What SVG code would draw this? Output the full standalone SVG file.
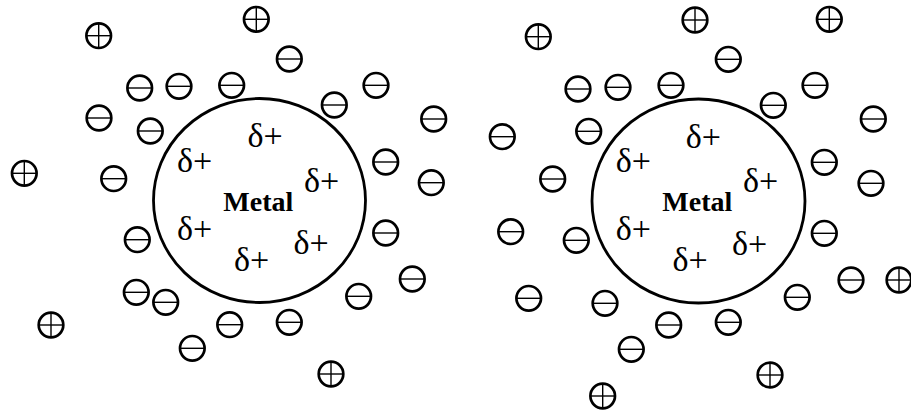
<svg xmlns="http://www.w3.org/2000/svg" xmlns:xlink="http://www.w3.org/1999/xlink" width="911" height="417" viewBox="0 0 911 417">
<style>
.ring{fill:none;stroke:#000;stroke-width:2.7}
.bar{stroke:#000;stroke-width:1.4}
.metal{fill:none;stroke:#000;stroke-width:2.8}
.d{font-family:"Liberation Serif","Times New Roman",serif;font-size:34px;text-anchor:middle;fill:#000}
.m{font-family:"Liberation Serif","Times New Roman",serif;font-size:28px;font-weight:bold;text-anchor:middle;fill:#000}
</style>
<defs>
<g id="neg"><circle class="ring" r="12.3"/><line class="bar" x1="-12.3" y1="0" x2="12.3" y2="0"/></g>
<g id="pos"><circle class="ring" r="12.3"/><line class="bar" x1="-12.3" y1="0" x2="12.3" y2="0"/><line class="bar" x1="0" y1="-12.3" x2="0" y2="12.3"/></g>
</defs>
<rect width="911" height="417" fill="#fff"/>
<g id="connectors"></g>

<g id="left-panel">
<g id="left-metal">
<ellipse class="metal" cx="259.5" cy="200.5" rx="106" ry="102"/>
<text class="m" x="258.3" y="211">Metal</text>
<text class="d" x="265" y="147">δ+</text>
<text class="d" x="194.7" y="172.3">δ+</text>
<text class="d" x="321.7" y="192">δ+</text>
<text class="d" x="194.7" y="239.6">δ+</text>
<text class="d" x="311" y="254.3">δ+</text>
<text class="d" x="251.7" y="271">δ+</text>
</g>
<g id="left-cations">
<use href="#pos" x="98.7" y="35.7"/>
<use href="#pos" x="256.3" y="19.3"/>
<use href="#pos" x="24.3" y="173.3"/>
<use href="#pos" x="51" y="325"/>
<use href="#pos" x="331" y="374"/>
</g>
<g id="left-anions">
<use href="#neg" x="289.3" y="59"/>
<use href="#neg" x="139.7" y="88"/>
<use href="#neg" x="179" y="86.3"/>
<use href="#neg" x="231.7" y="85.3"/>
<use href="#neg" x="376" y="85.3"/>
<use href="#neg" x="334.3" y="105"/>
<use href="#neg" x="433.7" y="119"/>
<use href="#neg" x="99" y="118"/>
<use href="#neg" x="150.3" y="131"/>
<use href="#neg" x="385.7" y="162"/>
<use href="#neg" x="431.3" y="182.7"/>
<use href="#neg" x="113.7" y="178.7"/>
<use href="#neg" x="137.3" y="239.7"/>
<use href="#neg" x="385.7" y="233"/>
<use href="#neg" x="412.3" y="279"/>
<use href="#neg" x="136.3" y="292.3"/>
<use href="#neg" x="165.7" y="302.3"/>
<use href="#neg" x="358.7" y="296.3"/>
<use href="#neg" x="229.7" y="324.7"/>
<use href="#neg" x="289.3" y="322.3"/>
<use href="#neg" x="192.3" y="348.3"/>
</g>
</g>

<g id="right-panel">
<g id="right-metal">
<ellipse class="metal" cx="698.5" cy="201" rx="106.5" ry="102"/>
<text class="m" x="697.3" y="211">Metal</text>
<text class="d" x="703.3" y="147.6">δ+</text>
<text class="d" x="633.3" y="172.3">δ+</text>
<text class="d" x="760.7" y="192.3">δ+</text>
<text class="d" x="633.3" y="239.6">δ+</text>
<text class="d" x="749.7" y="254.6">δ+</text>
<text class="d" x="690" y="270.6">δ+</text>
</g>
<g id="right-cations">
<use href="#pos" x="538.3" y="36.7"/>
<use href="#pos" x="695" y="20"/>
<use href="#pos" x="829.3" y="19.3"/>
<use href="#pos" x="899" y="280"/>
<use href="#pos" x="770" y="375"/>
<use href="#pos" x="602.7" y="396"/>
</g>
<g id="right-anions">
<use href="#neg" x="728.3" y="59.3"/>
<use href="#neg" x="578" y="89"/>
<use href="#neg" x="618" y="87.3"/>
<use href="#neg" x="671" y="85.3"/>
<use href="#neg" x="815" y="85.3"/>
<use href="#neg" x="773.3" y="105.3"/>
<use href="#neg" x="873.3" y="119"/>
<use href="#neg" x="502.3" y="136.7"/>
<use href="#neg" x="588.7" y="131.3"/>
<use href="#neg" x="824.3" y="162.3"/>
<use href="#neg" x="871" y="183.3"/>
<use href="#neg" x="552.7" y="179"/>
<use href="#neg" x="510.7" y="231.7"/>
<use href="#neg" x="576.3" y="240.3"/>
<use href="#neg" x="824.3" y="233.3"/>
<use href="#neg" x="851" y="280"/>
<use href="#neg" x="797.3" y="297.3"/>
<use href="#neg" x="528.7" y="298.3"/>
<use href="#neg" x="605" y="303.3"/>
<use href="#neg" x="668.7" y="325"/>
<use href="#neg" x="728.3" y="322.3"/>
<use href="#neg" x="631.3" y="349.3"/>
</g>
</g>
</svg>
